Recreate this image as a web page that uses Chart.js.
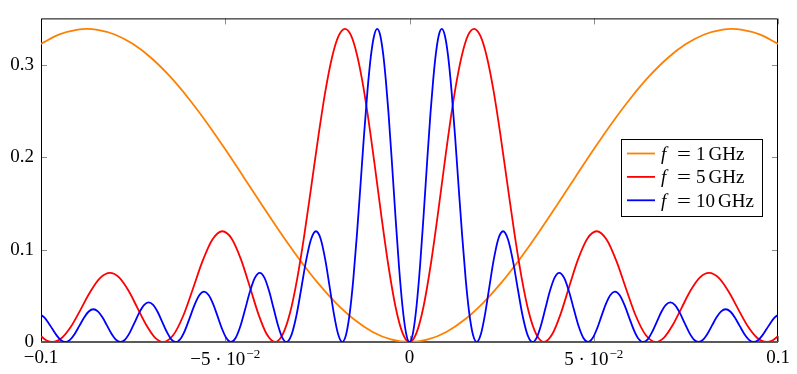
<!DOCTYPE html>
<html>
<head>
<meta charset="utf-8">
<script src="https://cdn.jsdelivr.net/npm/chart.js@4.4.1/dist/chart.umd.min.js"></script>
<style>
  html, body { margin: 0; padding: 0; background: #fff; }
  canvas { display: block; }
</style>
</head>
<body>
<canvas id="chart" width="797" height="374"></canvas>
<script>
// --- data ---
const xOrange = [-0.1, -0.095, -0.09, -0.0875, -0.085, -0.08, -0.075, -0.07, -0.065, -0.06, -0.055,
  -0.05, -0.045, -0.04, -0.035, -0.03, -0.025, -0.02, -0.015, -0.01, -0.005, 0,
  0.005, 0.01, 0.015, 0.02, 0.025, 0.03, 0.035, 0.04, 0.045, 0.05,
  0.055, 0.06, 0.065, 0.07, 0.075, 0.08, 0.085, 0.0875, 0.09, 0.095, 0.1];
const yOrange = [0.3225, 0.3327, 0.3379, 0.3386, 0.3379, 0.3326, 0.3222, 0.3069, 0.2872, 0.2637, 0.2372,
  0.2084, 0.1783, 0.1479, 0.1182, 0.0901, 0.0645, 0.0424, 0.0243, 0.0109, 0.0028, 0,
  0.0028, 0.0109, 0.0243, 0.0424, 0.0645, 0.0901, 0.1182, 0.1479, 0.1783, 0.2084,
  0.2372, 0.2637, 0.2872, 0.3069, 0.3222, 0.3326, 0.3379, 0.3386, 0.3379, 0.3327, 0.3225];

const xRed = [-0.1, -0.09848, -0.09689, -0.09438, -0.0919, -0.08929,
  -0.08667, -0.084, -0.0813, -0.07876, -0.07619, -0.07381, -0.07143, -0.06914, -0.06682, -0.0641,
  -0.06143, -0.05886, -0.05619, -0.05352, -0.05078, -0.04829, -0.04571, -0.04333, -0.04095, -0.03876,
  -0.03649, -0.03444, -0.03238, -0.03048, -0.02857, -0.02667, -0.02476, -0.02286, -0.02095, -0.01924,
  -0.01754, -0.0159, -0.01429, -0.01286, -0.01143, -0.00952, -0.00762, -0.00571, -0.00381, -0.0019,
  0,
  0.0019, 0.00381, 0.00571, 0.00762, 0.00952, 0.01143, 0.01286, 0.01429, 0.0159, 0.01754,
  0.01924, 0.02095, 0.02286, 0.02476, 0.02667, 0.02857, 0.03048, 0.03238, 0.03444, 0.03649,
  0.03876, 0.04095, 0.04333, 0.04571, 0.04829, 0.05078, 0.05352, 0.05619, 0.05886, 0.06143,
  0.0641, 0.06682, 0.06914, 0.07143, 0.07381, 0.07619, 0.07876, 0.0813, 0.084, 0.08667,
  0.08929, 0.0919, 0.09438, 0.09689, 0.09848, 0.1];
const yRed = [0.0062, 0.0017, 0, 0.0043, 0.0164, 0.0348,
  0.054, 0.069, 0.0747, 0.0696, 0.0551, 0.0367, 0.0183, 0.0051, 0, 0.0075,
  0.0281, 0.0565, 0.0872, 0.1106, 0.1198, 0.112, 0.0891, 0.0597, 0.0296, 0.0086,
  0, 0.0079, 0.0321, 0.0683, 0.115, 0.1679, 0.2217, 0.2706, 0.3091, 0.331,
  0.3386, 0.3318, 0.3113, 0.2835, 0.2483, 0.1936, 0.136, 0.0822, 0.0384, 0.0099,
  0,
  0.0099, 0.0384, 0.0822, 0.136, 0.1936, 0.2483, 0.2835, 0.3113, 0.3318, 0.3386,
  0.331, 0.3091, 0.2706, 0.2217, 0.1679, 0.115, 0.0683, 0.0321, 0.0079, 0,
  0.0086, 0.0296, 0.0597, 0.0891, 0.112, 0.1198, 0.1106, 0.0872, 0.0565, 0.0281,
  0.0075, 0, 0.0051, 0.0183, 0.0367, 0.0551, 0.0696, 0.0747, 0.069, 0.054,
  0.0348, 0.0164, 0.0043, 0, 0.0017, 0.0062];

const xBlue = [-0.1, -0.09905, -0.0981, -0.0969, -0.09571, -0.09457,
  -0.09341, -0.09214, -0.09086, -0.0896, -0.08833, -0.08705, -0.08579, -0.08457, -0.08333, -0.08214,
  -0.08095, -0.07969, -0.07843, -0.07719, -0.07595, -0.07464, -0.07333, -0.07205, -0.07078, -0.06957,
  -0.06833, -0.06714, -0.06595, -0.06471, -0.06345, -0.06219, -0.06095, -0.05964, -0.05833, -0.05705,
  -0.05574, -0.05452, -0.05333, -0.05214, -0.05095, -0.04971, -0.04845, -0.04719, -0.04595, -0.04464,
  -0.04333, -0.042, -0.04065, -0.03938, -0.0381, -0.0369, -0.03571, -0.03457, -0.03341, -0.03205,
  -0.03071, -0.02943, -0.0281, -0.02676, -0.02539, -0.02414, -0.02286, -0.02167, -0.02048, -0.01938,
  -0.01825, -0.01722, -0.01619, -0.01524, -0.01429, -0.01333, -0.01238, -0.01143, -0.01048, -0.00962,
  -0.00877, -0.00795, -0.00714, -0.00643, -0.00571, -0.00476, -0.00381, -0.00286, -0.0019, -0.00095,
  0,
  0.00095, 0.0019, 0.00286, 0.00381, 0.00476, 0.00571, 0.00643, 0.00714, 0.00795, 0.00877,
  0.00962, 0.01048, 0.01143, 0.01238, 0.01333, 0.01429, 0.01524, 0.01619, 0.01722, 0.01825,
  0.01938, 0.02048, 0.02167, 0.02286, 0.02414, 0.02539, 0.02676, 0.0281, 0.02943, 0.03071,
  0.03205, 0.03341, 0.03457, 0.03571, 0.0369, 0.0381, 0.03938, 0.04065, 0.042, 0.04333,
  0.04464, 0.04595, 0.04719, 0.04845, 0.04971, 0.05095, 0.05214, 0.05333, 0.05452, 0.05574,
  0.05705, 0.05833, 0.05964, 0.06095, 0.06219, 0.06345, 0.06471, 0.06595, 0.06714, 0.06833,
  0.06957, 0.07078, 0.07205, 0.07333, 0.07464, 0.07595, 0.07719, 0.07843, 0.07969, 0.08095,
  0.08214, 0.08333, 0.08457, 0.08579, 0.08705, 0.08833, 0.0896, 0.09086, 0.09214, 0.09341,
  0.09457, 0.09571, 0.0969, 0.0981, 0.09905, 0.1];
const yBlue = [0.0293, 0.0263, 0.0214, 0.014, 0.0069, 0.0019,
  0, 0.0023, 0.0087, 0.0174, 0.0263, 0.033, 0.0354, 0.0331, 0.0267, 0.0182,
  0.0095, 0.0026, 0, 0.0026, 0.0099, 0.0207, 0.0318, 0.0399, 0.0429, 0.0402,
  0.0324, 0.0221, 0.0116, 0.0032, 0, 0.0033, 0.0124, 0.0261, 0.0401, 0.0505,
  0.0544, 0.0509, 0.0415, 0.0285, 0.015, 0.0042, 0, 0.0043, 0.0164, 0.0348,
  0.054, 0.069, 0.0747, 0.0696, 0.0551, 0.0367, 0.0183, 0.0051, 0, 0.0075,
  0.0281, 0.0565, 0.0872, 0.1106, 0.1198, 0.112, 0.0891, 0.0597, 0.0296, 0.0086,
  0, 0.0079, 0.0321, 0.0683, 0.115, 0.1679, 0.2217, 0.2706, 0.3091, 0.331,
  0.3386, 0.3318, 0.3113, 0.2835, 0.2483, 0.1936, 0.136, 0.0822, 0.0384, 0.0099,
  0,
  0.0099, 0.0384, 0.0822, 0.136, 0.1936, 0.2483, 0.2835, 0.3113, 0.3318, 0.3386,
  0.331, 0.3091, 0.2706, 0.2217, 0.1679, 0.115, 0.0683, 0.0321, 0.0079, 0,
  0.0086, 0.0296, 0.0597, 0.0891, 0.112, 0.1198, 0.1106, 0.0872, 0.0565, 0.0281,
  0.0075, 0, 0.0051, 0.0183, 0.0367, 0.0551, 0.0696, 0.0747, 0.069, 0.054,
  0.0348, 0.0164, 0.0043, 0, 0.0042, 0.015, 0.0285, 0.0415, 0.0509, 0.0544,
  0.0505, 0.0401, 0.0261, 0.0124, 0.0033, 0, 0.0032, 0.0116, 0.0221, 0.0324,
  0.0402, 0.0429, 0.0399, 0.0318, 0.0207, 0.0099, 0.0026, 0, 0.0026, 0.0095,
  0.0182, 0.0267, 0.0331, 0.0354, 0.033, 0.0263, 0.0174, 0.0087, 0.0023, 0,
  0.0019, 0.0069, 0.014, 0.0214, 0.0263, 0.0293];

const xTickValues = [-0.1, -0.05, 0, 0.05, 0.1];
const xTickLabels = ['−0.1', '−5 · 10^−2', '0', '5 · 10^−2', '0.1'];
const yTickValues = [0, 0.1, 0.2, 0.3];
const yTickLabels = ['0', '0.1', '0.2', '0.3'];

const seriesFreq = ['1', '5', '10'];
const seriesColors = ['#ff8000', '#ff0000', '#0000ff'];

const SERIF = "'Liberation Serif', 'Times New Roman', serif";

// --- helpers ---
function points(xs, ys) {
  return xs.map((x, i) => ({ x: x, y: ys[i] }));
}

// frame with inward ticks, pgfplots style
const framePlugin = {
  id: 'frame',
  beforeDatasetsDraw(chart) {
    const { ctx, chartArea: a, scales: { x, y } } = chart;
    ctx.save();
    ctx.strokeStyle = '#8c8c8c';
    ctx.lineWidth = 1;
    ctx.beginPath();
    xTickValues.forEach(v => {
      const px = Math.round(x.getPixelForValue(v)) + 0.5;
      ctx.moveTo(px, a.top); ctx.lineTo(px, a.top + 6);
      ctx.moveTo(px, a.bottom); ctx.lineTo(px, a.bottom - 6);
    });
    yTickValues.forEach(v => {
      const py = Math.round(y.getPixelForValue(v)) + 0.5;
      ctx.moveTo(a.left, py); ctx.lineTo(a.left + 6, py);
      ctx.moveTo(a.right, py); ctx.lineTo(a.right - 6, py);
    });
    ctx.stroke();

    ctx.strokeStyle = '#000';
    ctx.lineWidth = 1;
    ctx.beginPath();
    ctx.moveTo(a.left + 0.5, a.bottom);
    ctx.lineTo(a.left + 0.5, a.top + 0.5);
    ctx.lineTo(a.right - 0.5, a.top + 0.5);
    ctx.lineTo(a.right - 0.5, a.bottom);
    ctx.stroke();

    ctx.strokeStyle = '#5a5a5a';
    ctx.lineWidth = 1.8;
    ctx.beginPath();
    ctx.moveTo(a.left, a.bottom);
    ctx.lineTo(a.right, a.bottom);
    ctx.stroke();
    ctx.restore();
  }
};

// x tick labels with superscripts + the legend box
const labelPlugin = {
  id: 'labels',
  afterDraw(chart) {
    const { ctx, chartArea: a, scales: { x } } = chart;
    ctx.save();
    ctx.fillStyle = '#000';
    ctx.textBaseline = 'alphabetic';
    ctx.textAlign = 'left';
    xTickValues.forEach((v, i) => {
      const px = x.getPixelForValue(v);
      const parts = xTickLabels[i].split('^');
      ctx.font = '19px ' + SERIF;
      const mw = ctx.measureText(parts[0]).width;
      if (parts.length > 1) {
        ctx.font = '13px ' + SERIF;
        const sw = ctx.measureText(parts[1]).width;
        const x0 = px - (mw + sw + 1) / 2;
        ctx.font = '19px ' + SERIF;
        ctx.fillText(parts[0], x0, a.bottom + 23);
        ctx.font = '13px ' + SERIF;
        ctx.fillText(parts[1], x0 + mw + 1, a.bottom + 16);
      } else {
        ctx.fillText(parts[0], px - mw / 2, a.bottom + 21);
      }
    });

    // legend
    const bx = 621, by = 139, bw = 141, bh = 77;
    ctx.fillStyle = '#fff';
    ctx.fillRect(bx, by, bw, bh);
    ctx.strokeStyle = '#000';
    ctx.lineWidth = 1;
    ctx.strokeRect(bx + 0.5, by + 0.5, bw, bh);
    seriesFreq.forEach((f, i) => {
      const ry = by + 14.5 + i * 23.4;
      ctx.strokeStyle = seriesColors[i];
      ctx.lineWidth = 1.8;
      ctx.beginPath();
      ctx.moveTo(bx + 6, ry);
      ctx.lineTo(bx + 34, ry);
      ctx.stroke();
      ctx.fillStyle = '#000';
      const base = ry + 6.5;
      ctx.font = 'italic 19px ' + SERIF;
      ctx.fillText('f', bx + 40, base);
      ctx.font = '19px ' + SERIF;
      // wider math-style equals sign
      ctx.save();
      ctx.translate(bx + 56, base);
      ctx.scale(1.3, 1);
      ctx.fillText('=', 0, 0);
      ctx.restore();
      ctx.fillText(f, bx + 75, base);
      const nw = ctx.measureText(f).width;
      ctx.fillText('GHz', bx + 75 + nw + 3, base);
    });
    ctx.restore();
  }
};

const datasets = [
  points(xOrange, yOrange),
  points(xRed, yRed),
  points(xBlue, yBlue)
].map((d, i) => ({
  label: 'f = ' + seriesFreq[i] + ' GHz',
  data: d,
  borderColor: seriesColors[i],
  borderWidth: 1.8,
  pointRadius: 0,
  fill: false,
  cubicInterpolationMode: 'monotone',
  order: 3 - i
}));

new Chart(document.getElementById('chart'), {
  type: 'line',
  data: { datasets: datasets },
  options: {
    responsive: false,
    animation: false,
    devicePixelRatio: 1,
    layout: { padding: { top: 12, right: 19, left: 0, bottom: 0 } },
    plugins: { legend: { display: false }, tooltip: { enabled: false } },
    scales: {
      x: {
        type: 'linear',
        min: -0.1,
        max: 0.1,
        grid: { display: false, drawTicks: false },
        border: { display: false },
        ticks: { display: false },
        afterFit: s => { s.height = 32; }
      },
      y: {
        type: 'linear',
        min: 0,
        max: 0.35,
        grid: { display: false, drawTicks: false },
        border: { display: false },
        afterBuildTicks: s => { s.ticks = yTickValues.map(v => ({ value: v })); },
        ticks: {
          callback: (v, i) => yTickLabels[i],
          font: { family: SERIF, size: 19 },
          color: '#000',
          padding: 7
        },
        afterFit: s => { s.width = 41; }
      }
    }
  },
  plugins: [framePlugin, labelPlugin]
});
</script>
</body>
</html>
